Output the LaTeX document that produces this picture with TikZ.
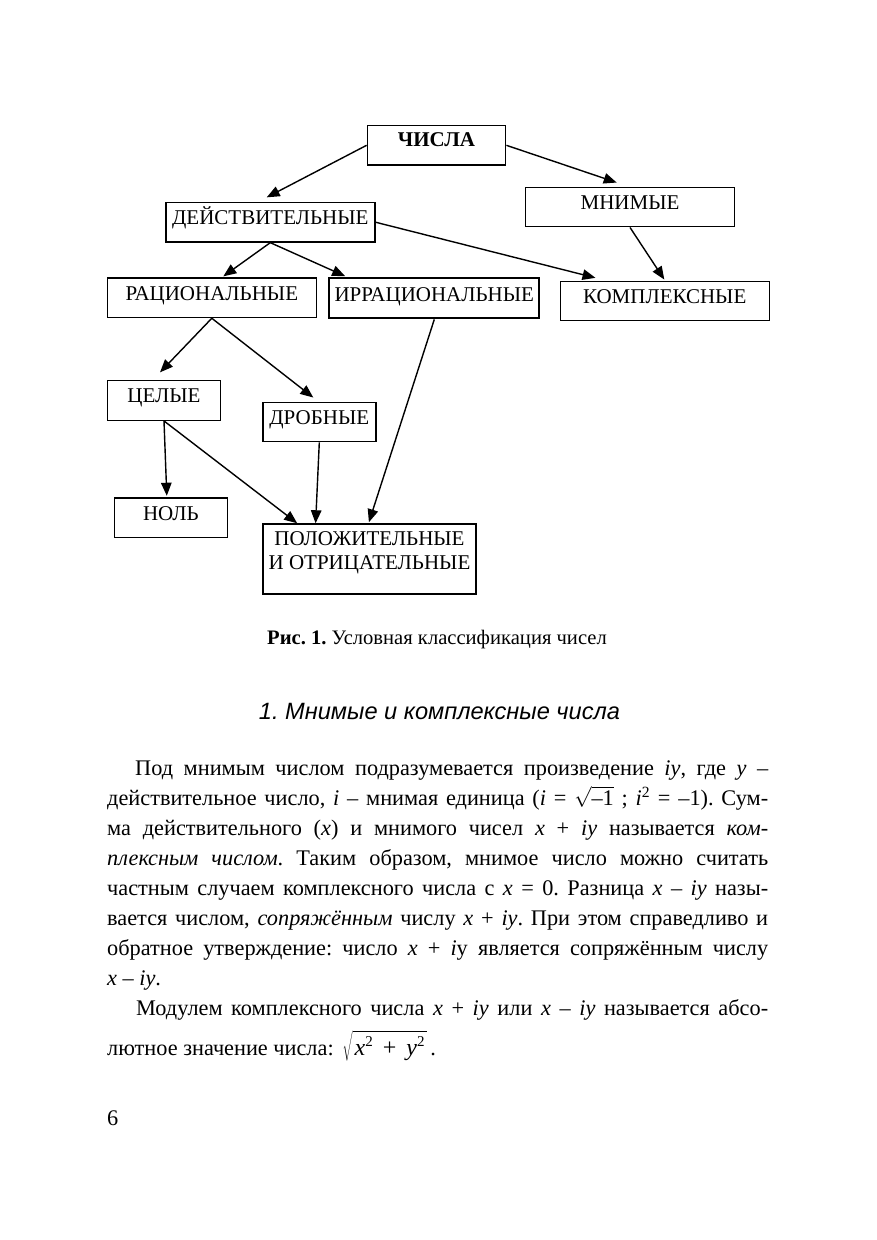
\documentclass[tikz,border=0pt]{standalone}
\usepackage{fontspec}
\setmainfont{Liberation Serif}
\newfontfamily\headfont{Liberation Sans}
\usetikzlibrary{arrows.meta,calc}
\frenchspacing
\newcommand{\bodyfnt}{\fontsize{22.3}{30}\selectfont}
\newcommand{\boxfnt}{\fontsize{21}{24}\selectfont}
\newcommand{\supii}{\raisebox{9pt}{\fontsize{15}{15}\selectfont 2}}
\begin{document}
\begin{tikzpicture}[x=1pt,y=-1pt,
  box/.style={draw, line width=1.4pt, inner sep=0pt, minimum height=39.5pt,
    text height=22pt, text depth=17.5pt, font=\boxfnt},
  wide/.style={box, minimum width=209pt},
  narrow/.style={box, minimum width=113pt},
  heavy/.style={line width=2.2pt},
  arr/.style={-{Triangle[length=13pt,width=10.5pt]}, line width=1.4pt},
  body/.style={anchor=base west, inner sep=0pt, font=\bodyfnt},
]
\useasboundingbox (0,0) rectangle (876,1240);
\fill[white] (0,0) rectangle (876,1240);

% boxes
\node[box, minimum width=138.4pt, text height=21pt, text depth=18.3pt, font=\boxfnt\bfseries] (chisla) at (436.5,145.3) {ЧИСЛА};
\node[wide] (deys) at (270.3,222.2) {ДЕЙСТВИТЕЛЬНЫЕ};
\node[wide] (mnim) at (630,207) {МНИМЫЕ};
\node[wide] (rac) at (211.8,297.8) {РАЦИОНАЛЬНЫЕ};
\node[wide, heavy, minimum width=210pt, text height=23pt, text depth=17pt] (irr) at (434.3,298.3) {ИРРАЦИОНАЛЬНЫЕ};
\node[wide] (komp) at (664.7,301) {КОМПЛЕКСНЫЕ};
\node[narrow] (cel) at (164,400.5) {ЦЕЛЫЕ};
\node[narrow] (drob) at (319.3,422) {ДРОБНЫЕ};
\node[narrow] (nol) at (170.8,517.8) {НОЛЬ};
\node[box, heavy, minimum width=212.4pt, minimum height=69.7pt, text height=21pt, text depth=48.7pt] (pol) at (369.5,559.2)
  {\parbox[t]{212pt}{\centering ПОЛОЖИТЕЛЬНЫЕ\\И ОТРИЦАТЕЛЬНЫЕ}};

% connectors
\draw[arr] (chisla.west) -- ($(deys.north)+(-3.6,-4.4)$);
\draw[arr] (chisla.east) -- ($(mnim.north)+(-13.3,-4)$);
\draw[arr] (deys.east) -- ($(komp.north west)+(36,-2.7)$);
\draw[arr] (mnim.south) -- ($(komp.north)+(-0.4,-1)$);
\draw[arr] (deys.south) -- ($(rac.north)+(11.5,-1)$);
\draw[arr] (deys.south) -- ($(irr.north west)+(17,-1)$);
\draw[arr] (rac.south) -- ($(cel.north)+(-4,-7.7)$);
\draw[arr] (rac.south) -- ($(drob.north)+(-6,-4)$);
\draw[arr] (cel.south) -- ($(nol.north)+(-4,-1.6)$);
\draw[arr] (cel.south) -- ($(pol.north west)+(35,0)$);
\draw[arr] (drob.south) -- ($(pol.north west)+(53.4,0)$);
\draw[arr] (irr.south) -- ($(pol.north west)+(106.7,-1)$);

% caption and heading
\node[anchor=base, inner sep=0pt, font=\fontsize{20.6}{24}\selectfont] (cap) at (437,644)
  {\textbf{Рис. 1.} Условная классификация чисел};
\node[anchor=base, inner sep=0pt, font=\headfont\itshape\fontsize{23.6}{28}\selectfont] (head) at (439.5,719)
  {1. Мнимые и комплексные числа};

% body text
\node[body] (l1) at (135,775) {\makebox[633pt][s]{Под мнимым числом подразумевается произведение \textit{iy}, где \textit{y} –}};
\node[body] (l2) at (107,805) {\makebox[661pt][s]{действительное число, \textit{i} – мнимая единица (\textit{i} = $\sqrt{\mbox{–1}}$ ; \textit{i}\textsuperscript{2} = –1). Сум-}};
\node[body] (l3) at (107,835) {\makebox[661pt][s]{ма действительного (\textit{x}) и мнимого чисел \textit{x} + \textit{iy} называется \textit{ком-}}};
\node[body] (l4) at (107,865) {\makebox[661pt][s]{\textit{плексным числом}. Таким образом, мнимое число можно считать}};
\node[body] (l5) at (107,895) {\makebox[661pt][s]{частным случаем комплексного числа с \textit{x} = 0. Разница \textit{x} – \textit{iy} назы-}};
\node[body] (l6) at (107,925) {\makebox[661pt][s]{вается числом, \textit{сопряжённым} числу \textit{x} + \textit{iy}. При этом справедливо и}};
\node[body] (l7) at (107,955) {\makebox[661pt][s]{обратное утверждение: число \textit{x} + \textit{i}у является сопряжённым числу}};
\node[body] (l8) at (107,985) {\textit{x} – \textit{iy}.};
\node[body] (l9) at (136,1015) {\makebox[632pt][s]{Модулем комплексного числа \textit{x} + \textit{iy} или \textit{x} – \textit{iy} называется абсо-}};
\node[body] (l10) at (107,1055) {лютное значение числа:\hspace{9pt}$\sqrt{\rule[-6pt]{0pt}{29pt}\mbox{\hspace{2pt}\fontsize{24}{30}\selectfont\textit{x}\supii\hspace{10pt}+\hspace{10pt}\textit{y}\supii\hspace{2pt}}}$\,.};
\node[body] (pg) at (107,1125.7) {6};
\end{tikzpicture}
\end{document}
